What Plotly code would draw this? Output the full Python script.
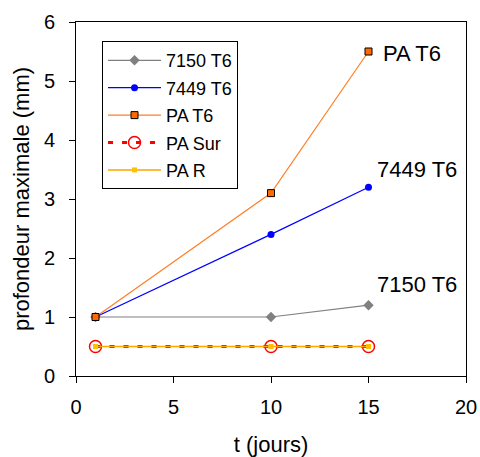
import plotly.graph_objects as go

t = [1, 10, 15]
s7150 = [1.0, 1.0, 1.2]
s7449 = [1.0, 2.4, 3.2]
pa_t6 = [1.0, 3.1, 5.5]
pa_sur = [0.5, 0.5, 0.5]
pa_r = [0.5, 0.5, 0.5]
names = ["7150 T6", "7449 T6", "PA T6", "PA Sur", "PA R"]

fig = go.Figure()
fig.add_trace(go.Scatter(x=t, y=s7150, name=names[0], mode="lines+markers", legendgroup="a",
                         line=dict(color="#808080", width=1.2),
                         marker=dict(symbol="diamond", size=8, color="#808080")))
fig.add_trace(go.Scatter(x=t, y=s7449, name=names[1], mode="lines+markers", legendgroup="b",
                         line=dict(color="#0000ff", width=1.2),
                         marker=dict(symbol="circle", size=7, color="#0000ff")))
fig.add_trace(go.Scatter(x=t, y=pa_t6, name=names[2], mode="lines+markers", legendgroup="c",
                         line=dict(color="#ff7f27", width=1.2),
                         marker=dict(symbol="square", size=7, color="#ff6a00",
                                     line=dict(color="black", width=1))))
fig.add_trace(go.Scatter(x=t, y=pa_sur, name=names[3], mode="lines+markers", legendgroup="d",
                         line=dict(color="#ff0000", width=3, dash="5px,9px"),
                         marker=dict(symbol="circle-open", size=12, color="#ff0000",
                                     line=dict(width=1.5))))
fig.add_trace(go.Scatter(x=t, y=pa_r, name=names[4], mode="lines+markers", legendgroup="e",
                         line=dict(color="#ffa500", width=1.5),
                         marker=dict(symbol="square", size=5, color="#ffc000")))

for txt, xx, yy, xs, ys in [("PA T6", 15, 5.5, 12, -2), ("7449 T6", 15, 3.2, 6, 18),
                            ("7150 T6", 15, 1.2, 6, 21)]:
    fig.add_annotation(x=xx, y=yy, text=txt, showarrow=False, xanchor="left",
                       yanchor="middle", xshift=xs, yshift=ys,
                       font=dict(size=22, color="black"))

axis_common = dict(showline=True, linecolor="black", linewidth=1, mirror=True,
                   ticks="outside", ticklen=6, tickcolor="black", showgrid=False,
                   zeroline=False, tickfont=dict(size=20, color="black"),
                   automargin=False)
fig.update_xaxes(range=[0, 20], dtick=5, ticklabelstandoff=7,
                 title=dict(text="t (jours)", font=dict(size=22, color="black"), standoff=29),
                 **axis_common)
fig.update_yaxes(range=[0, 6], dtick=1, ticklabelstandoff=10,
                 title=dict(text="profondeur maximale (mm)", font=dict(size=22, color="black"), standoff=8),
                 **axis_common)

fig.update_layout(
    width=480, height=457,
    margin=dict(l=76, r=14, t=22, b=81),
    plot_bgcolor="white", paper_bgcolor="white",
    font=dict(family="Arial, Liberation Sans, sans-serif", color="black"),
    legend=dict(x=0.0667, y=0.946, xanchor="left", yanchor="top",
                bgcolor="white", bordercolor="black", borderwidth=1,
                font=dict(size=18, color="black"), tracegroupgap=1,
                itemwidth=53),
)

fig.write_html("out.html", config={"displayModeBar": False},
               post_script="document.body.style.margin='0px';")
